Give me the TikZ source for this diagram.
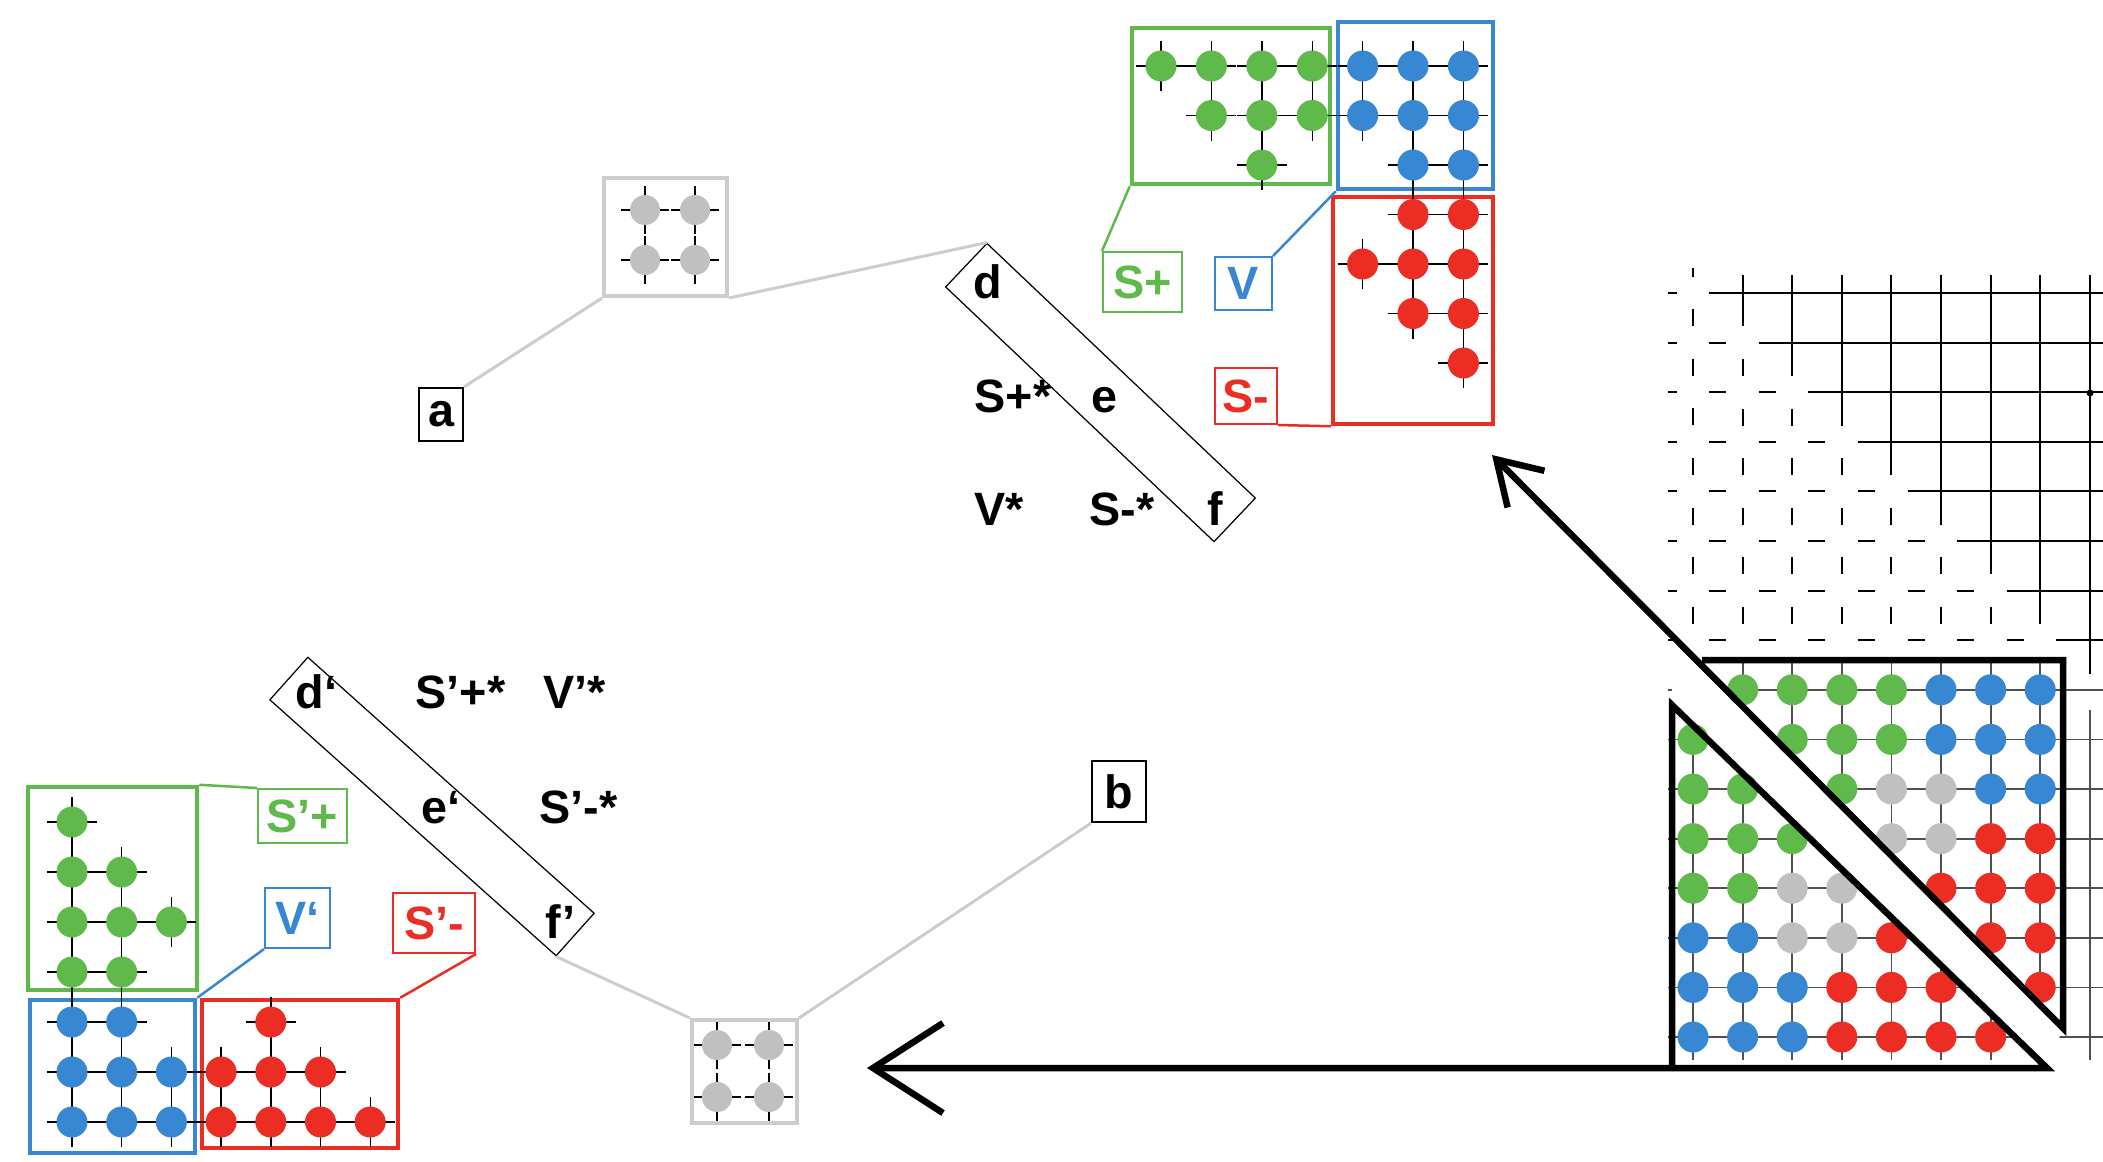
\documentclass[tikz,border=0pt]{standalone}
\usepackage{fontspec}
\setmainfont{Liberation Sans}
\usetikzlibrary{arrows.meta}

\definecolor{sgreen}{RGB}{95,185,75}
\definecolor{sblue}{RGB}{55,135,210}
\definecolor{sred}{RGB}{235,45,35}
\definecolor{sgray}{RGB}{192,192,192}
\definecolor{lgray}{RGB}{205,205,205}
\definecolor{mline}{RGB}{80,80,80}

\tikzset{
  lbl/.style={font=\bfseries\fontsize{13.3}{16}\selectfont, inner sep=0pt},
  tag/.style={lbl, draw, line width=0.2mm},
  blk/.style={draw, line width=0.45mm, inner sep=0pt},
  gbox/.style={draw=lgray, line width=0.4mm, inner sep=0pt},
  band/.style={draw, line width=0.35pt, inner sep=0pt},
  link/.style={lgray, line width=0.3mm},
  tie/.style={line width=0.25mm},
  wire/.style={line width=0.4pt},
  solidgrid/.style={line width=0.55pt},
  dashgrid/.style={line width=0.55pt, dash pattern=on 1.7mm off 3.26mm},
  mgrid/.style={mline, line width=0.5pt},
  heavy/.style={line width=0.65mm, line join=miter},
}

\def\topsites{0/0/sgreen,1/0/sgreen,2/0/sgreen,3/0/sgreen,1/1/sgreen,2/1/sgreen,3/1/sgreen,2/2/sgreen,
  4/0/sblue,5/0/sblue,6/0/sblue,4/1/sblue,5/1/sblue,6/1/sblue,5/2/sblue,6/2/sblue,
  5/3/sred,6/3/sred,4/4/sred,5/4/sred,6/4/sred,5/5/sred,6/5/sred,6/6/sred}
\def\botsites{0/0/sgreen,0/1/sgreen,1/1/sgreen,0/2/sgreen,1/2/sgreen,2/2/sgreen,0/3/sgreen,1/3/sgreen,
  0/4/sblue,1/4/sblue,0/5/sblue,1/5/sblue,2/5/sblue,0/6/sblue,1/6/sblue,2/6/sblue,
  4/4/sred,3/5/sred,4/5/sred,5/5/sred,3/6/sred,4/6/sred,5/6/sred,6/6/sred}
\def\graysites{645/210,695/210,645/260,695/260,717/1045,769/1045,717/1097,769/1097}

\begin{document}
\begin{tikzpicture}[x=0.1mm,y=-0.1mm]
    \useasboundingbox (0,0) rectangle (2103,1161);

    % matrix grid, upper part
    \foreach \j in {0,...,7} {
        \pgfmathsetmacro\yy{293+49.6*\j}
        \pgfmathsetmacro\xs{1693+49.6*\j+16.3}
        \draw[dashgrid, dash phase=0.85mm] (1668,\yy) -- (\xs,\yy);
        \draw[solidgrid] (\xs,\yy) -- (2103,\yy);
    }
    \draw[dashgrid, dash phase=0.85mm] (1693,268) -- (1693,624);
    \foreach \i in {1,...,8} {
        \pgfmathsetmacro\xx{1693+49.6*\i}
        \pgfmathsetmacro\ys{293+49.6*\i-16.3}
        \draw[solidgrid] (\xx,275) -- (\xx,\ys);
        \ifnum\i<7 \draw[dashgrid, dash phase=1.7mm] (\xx,\ys) -- (\xx,624); \fi
    }
    \fill (2090,393) circle[radius=0.35mm];

    % matrix grid, lower part
    \foreach \j in {8,...,15}
        \draw[mgrid] (1668,293+49.6*\j) -- (2103,293+49.6*\j);
    \foreach \i in {0,...,7}
        \draw[mgrid] (1693+49.6*\i,660) -- (1693+49.6*\i,1060);
    \draw[mgrid] (2089.8,710) -- (2089.8,1060);
    \fill[white] (1672,705) -- (2047,1068) -- (2063,1028) -- (1690,654) -- (1672,654) -- cycle;

    \foreach \row [count=\j from 0] in {
        {none,sgreen,sgreen,sgreen,sgreen,sblue,sblue,sblue},
        {sgreen,none,sgreen,sgreen,sgreen,sblue,sblue,sblue},
        {sgreen,sgreen,none,sgreen,sgray,sgray,sblue,sblue},
        {sgreen,sgreen,sgreen,none,sgray,sgray,sred,sred},
        {sgreen,sgreen,sgray,sgray,none,sred,sred,sred},
        {sblue,sblue,sgray,sgray,sred,none,sred,sred},
        {sblue,sblue,sblue,sred,sred,sred,none,sred},
        {sblue,sblue,sblue,sred,sred,sred,sred,none}} {
        \foreach \c [count=\i from 0] in \row
            \path[fill=\c] (1693+49.6*\i,689.8+49.6*\j) circle[radius=1.55mm];
    }

    \coordinate (T1) at (1702,660);
    \coordinate (T2) at (2063,660);
    \coordinate (T3) at (2063,1028);
    \coordinate (L1) at (1672,705);
    \coordinate (L2) at (1672,1068);
    \coordinate (L3) at (2047,1068);
    \coordinate (upTip) at (1492,455);
    \coordinate (lowTip) at (867,1068);
    \draw[heavy, -{Straight Barb[length=4.2mm,width=5.2mm]}] (T1) -- (T2) -- (T3) -- (upTip);
    \draw[heavy, -{Straight Barb[length=7mm,width=9mm]}] (L2) -- (L3) -- (L1) -- (L2) -- (lowTip);

    % blocks
    \node[blk, draw=sgreen, minimum width=19.8mm, minimum height=15.6mm] (gT) at (1231,106) {};
    \node[blk, draw=sblue, minimum width=15.5mm, minimum height=16.7mm] (bT) at (1415.5,105.5) {};
    \node[blk, draw=sred, minimum width=16mm, minimum height=22.7mm] (rT) at (1413,310.5) {};
    \node[blk, draw=sgreen, minimum width=16.9mm, minimum height=20.3mm] (gB) at (112.5,888.5) {};
    \node[blk, draw=sblue, minimum width=16.5mm, minimum height=15.3mm] (bB) at (112.5,1076.5) {};
    \node[blk, draw=sred, minimum width=19.6mm, minimum height=14.8mm] (rB) at (300,1074) {};

    \foreach \i/\j/\c in \topsites {
        \pgfmathsetmacro\xx{1161+50.4*\i}
        \pgfmathsetmacro\yy{66+49.5*\j}
        \draw[wire] (\xx-25,\yy) -- (\xx+25,\yy) (\xx,\yy-25) -- (\xx,\yy+25);
    }
    \foreach \i/\j/\c in \botsites {
        \pgfmathsetmacro\xx{72+49.7*\i}
        \pgfmathsetmacro\yy{822+50*\j}
        \draw[wire] (\xx-25,\yy) -- (\xx+25,\yy) (\xx,\yy-25) -- (\xx,\yy+25);
    }
    \foreach \xx/\yy in \graysites
        \draw[wire] (\xx-24,\yy) -- (\xx+24,\yy) (\xx,\yy-24) -- (\xx,\yy+24);
    \foreach \i/\j/\c in \topsites
        \fill[\c] (1161+50.4*\i,66+49.5*\j) circle[radius=1.55mm];
    \foreach \i/\j/\c in \botsites
        \fill[\c] (72+49.7*\i,822+50*\j) circle[radius=1.55mm];
    \foreach \xx/\yy in \graysites
        \fill[sgray] (\xx,\yy) circle[radius=1.5mm];

    \node[gbox, minimum width=12.3mm, minimum height=11.8mm] (grayA) at (665.5,237) {};
    \node[gbox, minimum width=10.5mm, minimum height=10.3mm] (grayB) at (744.5,1071.5) {};

    % tags
    \node[tag, draw=sgreen, text=sgreen, minimum width=7.9mm, minimum height=6mm] (Sp) at (1142.5,282) {S+};
    \node[tag, draw=sblue, text=sblue, minimum width=5.7mm, minimum height=5.3mm] (V) at (1243.5,283.5) {V};
    \node[tag, draw=sred, text=sred, minimum width=6.2mm, minimum height=5.6mm] (Sm) at (1246,396) {S-};
    \node[tag, draw=sgreen, text=sgreen, minimum width=8.9mm, minimum height=5.4mm] (Spb) at (302.5,816) {S’+};
    \node[tag, draw=sblue, text=sblue, minimum width=6.5mm, minimum height=6mm] (Vb) at (297.5,918) {V‘};
    \node[tag, draw=sred, text=sred, minimum width=8.2mm, minimum height=6mm] (Smb) at (434,923) {S’-};
    \node[tag, line width=0.25mm, minimum width=4.4mm, minimum height=5.3mm] (a) at (441,414.5) {a};
    \node[tag, line width=0.25mm, minimum width=5.4mm, minimum height=6.1mm] (b) at (1119,791.5) {b};

    \node[band, rotate=-43.5, minimum width=37mm, minimum height=6mm] (dA) at (1100.5,392.5) {};
    \node[band, rotate=-41.8, minimum width=38.4mm, minimum height=5.7mm] (dB) at (432,806.5) {};

    \node[lbl, anchor=base west] (td) at (973,298) {d};
    \node[lbl, anchor=base west] (tSp) at (974,412) {S+*};
    \node[lbl, anchor=base west] (te) at (1091,412) {e};
    \node[lbl, anchor=base west] (tV) at (974,525) {V*};
    \node[lbl, anchor=base west] (tSm) at (1089,525) {S-*};
    \node[lbl, anchor=base west] (tf) at (1207,525) {f};
    \node[lbl, anchor=base west] (tdb) at (295,708) {d‘};
    \node[lbl, anchor=base west] (tSpb) at (415,708) {S’+*};
    \node[lbl, anchor=base west] (tVb) at (543,708) {V’*};
    \node[lbl, anchor=base west] (teb) at (421,823) {e‘};
    \node[lbl, anchor=base west] (tSmb) at (539,823) {S’-*};
    \node[lbl, anchor=base west] (tfb) at (545,938) {f’};

    % connectors
    \draw[link] (a.north east) -- (grayA.south west);
    \draw[link] (grayA.south east) -- (dA.north west);
    \draw[link] (dB.south east) -- (grayB.north west);
    \draw[link] (grayB.north east) -- (b.south west);
    \draw[tie, sgreen] (Sp.north west) -- (gT.south west);
    \draw[tie, sblue] (V.north east) -- (bT.south west);
    \draw[tie, sred] (Sm.south east) -- (rT.south west);
    \draw[tie, sgreen] (gB.north east) -- (Spb.north west);
    \draw[tie, sblue] (Vb.south west) -- (bB.north east);
    \draw[tie, sred] (Smb.south east) -- (rB.north east);
\end{tikzpicture}
\end{document}
